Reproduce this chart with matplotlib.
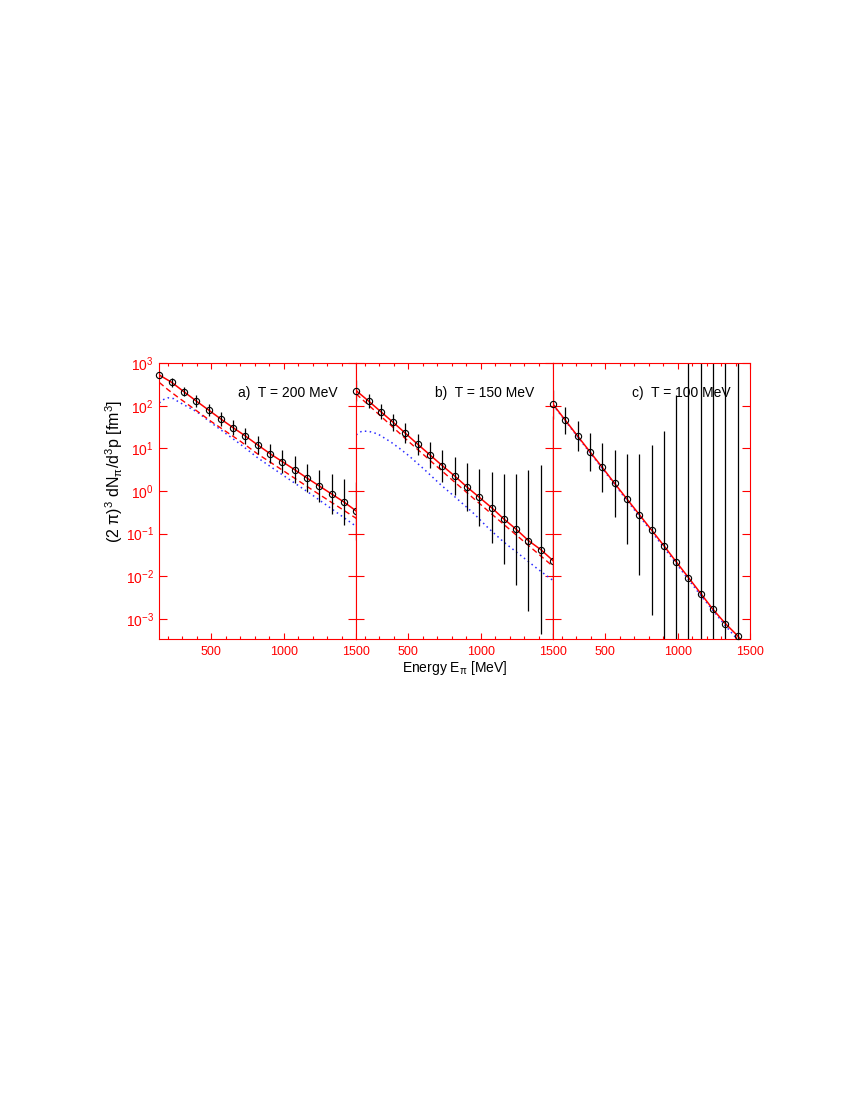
import numpy as np
import matplotlib
matplotlib.use("Agg")
import matplotlib.pyplot as plt
from matplotlib.ticker import FixedLocator, MultipleLocator, NullLocator, LogLocator

plt.rcParams['font.family'] = ['Liberation Sans', 'DejaVu Sans']
plt.rcParams['mathtext.fontset'] = 'custom'
plt.rcParams['mathtext.rm'] = 'Liberation Sans'
plt.rcParams['mathtext.it'] = 'Liberation Sans'

# pion energies of the data points [MeV]
energy = [140, 225, 310, 395, 480, 565, 650, 735, 820, 905, 990, 1075, 1160, 1245, 1330, 1415, 1500]

# log10 of the spectra at the data points (solid red curve goes through them)
a_pts = [2.725, 2.554, 2.333, 2.115, 1.904, 1.692, 1.488, 1.293, 1.082, 0.878,
         0.690, 0.502, 0.307, 0.120, -0.068, -0.256, -0.467]
b_pts = [2.357, 2.115, 1.864, 1.615, 1.357, 1.099, 0.847, 0.596, 0.354, 0.096,
         -0.146, -0.389, -0.655, -0.897, -1.164, -1.375, -1.634]
c_pts = [2.037, 1.660, 1.290, 0.920, 0.555, 0.180, -0.186, -0.550, -0.915, -1.280,
         -1.660, -2.030, -2.405, -2.780, -3.110, -3.400, -3.760]

# error bar half widths in decades
a_err = [0.09, 0.10, 0.11, 0.13, 0.14, 0.16, 0.18, 0.19, 0.22, 0.23, 0.27, 0.31,
         0.34, 0.38, 0.46, 0.55, 0.67]
b_err = [0.25, 0.16, 0.17, 0.20, 0.23, 0.25, 0.31, 0.38, 0.44, 0.56, 0.67, 0.83,
         1.06, 1.30, 1.66, 1.98, 3.40]
c_err = [0.34, 0.31, 0.36, 0.45, 0.58, 0.78, 1.05, 1.41, 2.00, 2.68, 3.92, 5.5,
         7.0, 8.0, 9.0, 10.0, 11.0]

# red dashed curves (log10)
a_dash_e = [140, 200, 270, 400, 500, 700, 820, 1000, 1200, 1500]
a_dash = [2.55, 2.38, 2.20, 1.88, 1.63, 1.17, 0.87, 0.47, 0.02, -0.64]
b_dash_e = [140, 300, 500, 800, 1100, 1500]
b_dash = [2.28, 1.79, 1.17, 0.27, -0.61, -1.77]

# blue dotted curves (log10)
a_dot_e = [140, 170, 200, 240, 270, 400, 500, 700, 820, 1000, 1200, 1500]
a_dot = [2.07, 2.15, 2.19, 2.17, 2.10, 1.86, 1.60, 1.10, 0.78, 0.36, -0.10, -0.83]
b_dot_e = [140, 180, 230, 290, 380, 440, 500, 610, 720, 830, 950, 1050, 1160, 1280, 1390, 1500]
b_dot = [1.32, 1.41, 1.40, 1.34, 1.15, 1.00, 0.84, 0.51, 0.16, -0.16, -0.52, -0.86,
         -1.20, -1.52, -1.82, -2.10]
c_dot_e = [140, 310, 480, 650, 820, 990, 1160, 1330, 1500]
c_dot = [2.02, 1.27, 0.53, -0.22, -0.95, -1.70, -2.45, -3.16, -3.82]

titles = ['a)  T = 200 MeV', 'b)  T = 150 MeV', 'c)  T = 100 MeV']

panels = [
    (a_pts, a_err, (a_dash_e, a_dash), (a_dot_e, a_dot)),
    (b_pts, b_err, (b_dash_e, b_dash), (b_dot_e, b_dot)),
    (c_pts, c_err, None, (c_dot_e, c_dot)),
]

ymin, ymax = 10 ** -3.48, 1e3

fig = plt.figure(figsize=(8.5, 11), dpi=100)
left0 = 159.3 / 850
w = 196.9 / 850
bottom = 1 - 639.3 / 1100
h = 276.0 / 1100

E = np.array(energy)
for k, (pts, err, dash, dot) in enumerate(panels):
    ax = fig.add_axes([left0 + k * w, bottom, w, h])
    pts = np.array(pts)
    err = np.array(err)

    if dot is not None:
        ax.plot(dot[0], 10 ** np.array(dot[1]), color='#2b2bff', lw=1.1,
                linestyle=(0, (1, 2.2)))
    if dash is not None:
        ax.plot(dash[0], 10 ** np.array(dash[1]), color='red', lw=1.0,
                linestyle=(0, (4, 2.5)))
    ax.plot(E, 10 ** pts, color='red', lw=1.1)

    vis = 10 ** pts >= ymin
    ax.vlines(E[vis], 10 ** (pts[vis] - err[vis]), 10 ** (pts[vis] + err[vis]),
              color='k', lw=0.9)
    ax.plot(E[vis], 10 ** pts[vis], 'o', mfc='none', mec='k', ms=4.5, mew=0.8,
            clip_on=False, zorder=5)

    ax.set_yscale('log')
    ax.set_xlim(140, 1500)
    ax.set_ylim(ymin, ymax)
    ax.xaxis.set_major_locator(FixedLocator([500, 1000, 1500]))
    ax.xaxis.set_minor_locator(MultipleLocator(100))
    ax.yaxis.set_major_locator(LogLocator(base=10, numticks=10))
    ax.yaxis.set_minor_locator(NullLocator())

    for s in ax.spines.values():
        s.set_color('red')
        s.set_linewidth(0.8)
    ax.tick_params(axis='both', which='both', direction='in', colors='red',
                   top=True, right=True, width=0.8)
    ax.tick_params(axis='x', which='major', length=4.5, labelsize=9, pad=5)
    ax.tick_params(axis='x', which='minor', length=2.5)
    ax.tick_params(axis='y', which='major', length=5.5, labelsize=10, pad=4)
    if k > 0:
        ax.tick_params(axis='y', labelleft=False)

    ax.text(0.40, 0.891, titles[k], transform=ax.transAxes, fontsize=10,
            ha='left', va='center', color='k')

fig.text(114 / 850, 0.5714, r'(2 $\pi$)$^3$ dN$_\pi$/d$^3$p [fm$^3$]',
         rotation=90, ha='center', va='center', fontsize=11.5)
fig.text(0.535, 0.3927, r'Energy E$_\pi$ [MeV]', ha='center', va='center',
         fontsize=10)

fig.savefig('out.png', dpi=100)
